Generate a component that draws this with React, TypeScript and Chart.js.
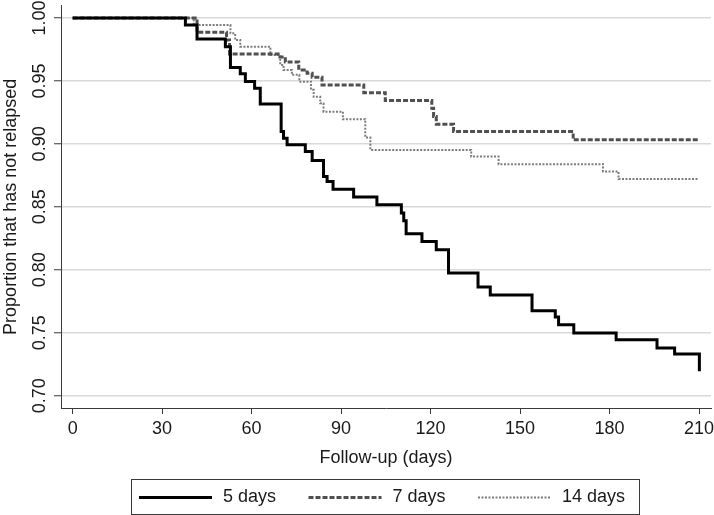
import React, { useEffect, useRef } from "react";
import { Chart, registerables } from "chart.js";

Chart.register(...registerables);

// ---- data ----
const SERIES_LABELS = ["5 days", "7 days", "14 days"];

const days5 = [0, 37.8, 41.7, 51.2, 52.9, 56.2, 57.9, 61.0, 62.9, 69.9, 70.7, 71.9, 78.0, 80.3, 84.1, 85.3, 87.3, 94.2, 102.0, 110.2, 111.0, 111.8, 117.1, 121.9, 126.0, 135.9, 140.0, 154.0, 161.8, 162.9, 168.0, 182.2, 195.9, 201.8, 210.1];
const surv5 = [1.0, 0.9944, 0.9833, 0.9772, 0.9606, 0.9556, 0.9495, 0.9442, 0.9317, 0.9098, 0.9045, 0.8992, 0.8939, 0.8868, 0.8741, 0.8701, 0.864, 0.8577, 0.8516, 0.845, 0.839, 0.8286, 0.8225, 0.8159, 0.7974, 0.7863, 0.7799, 0.7675, 0.7625, 0.7563, 0.7498, 0.7444, 0.7379, 0.7331, 0.7193];

const days7 = [0, 41.7, 51.6, 52.6, 69.5, 71.3, 75.8, 78.6, 80.3, 83.6, 97.6, 104.8, 120.4, 121.0, 121.9, 127.7, 167.8, 210.0];
const surv7 = [1.0, 0.9886, 0.9825, 0.9714, 0.969, 0.965, 0.9587, 0.9561, 0.9529, 0.9468, 0.9407, 0.9344, 0.9283, 0.9217, 0.9156, 0.9098, 0.9032, 0.9032];

const days14 = [0, 40.6, 52.9, 54.5, 56.2, 66.3, 69.6, 70.7, 73.5, 76.0, 79.9, 80.8, 83.0, 84.1, 90.6, 98.1, 99.8, 133.6, 142.8, 177.8, 183.0, 209.5];
const surv14 = [1.0, 0.9944, 0.9878, 0.9825, 0.9772, 0.9706, 0.9627, 0.9587, 0.9548, 0.9494, 0.9429, 0.9375, 0.9323, 0.9256, 0.9196, 0.905, 0.8952, 0.8899, 0.8839, 0.878, 0.872, 0.872];

const X_TICKS = [0, 30, 60, 90, 120, 150, 180, 210];
const X_TICK_LABELS = ["0", "30", "60", "90", "120", "150", "180", "210"];
const Y_TICKS = [0.7, 0.75, 0.8, 0.85, 0.9, 0.95, 1.0];
const Y_TICK_LABELS = ["0.70", "0.75", "0.80", "0.85", "0.90", "0.95", "1.00"];
const X_TITLE = "Follow-up (days)";
const Y_TITLE = "Proportion that has not relapsed";

// ---- styles ----
const FONT = '"Liberation Sans", Arial, sans-serif';
const TEXT = "#1a1a1a";
const AXIS = "#3a3a3a";
const GRID = "#d9d9d9";
const STYLES = [
  { color: "#000000", width: 3, dash: [] as number[] },
  { color: "#505050", width: 3, dash: [5, 2] },
  { color: "#7c7c7c", width: 2, dash: [2, 1.5] },
];

const zip = (xs: number[], ys: number[]) => xs.map((x, i) => ({ x, y: ys[i] }));

const overlay = {
  id: "overlay",
  afterDraw(chart: any) {
    const ctx = chart.ctx as CanvasRenderingContext2D;
    const ys = chart.scales.y;
    ctx.save();
    ctx.fillStyle = TEXT;
    ctx.font = `18px ${FONT}`;
    ctx.textAlign = "center";
    ctx.textBaseline = "middle";
    Y_TICKS.forEach((v, i) => {
      const py = ys.getPixelForValue(v);
      ctx.save();
      ctx.translate(40, py);
      ctx.rotate(-Math.PI / 2);
      ctx.fillText(Y_TICK_LABELS[i], 0, 0);
      ctx.restore();
    });
    ctx.save();
    const cy = (ys.getPixelForValue(0.7) + ys.getPixelForValue(1.0)) / 2;
    ctx.translate(11, cy);
    ctx.rotate(-Math.PI / 2);
    ctx.fillText(Y_TITLE, 0, 0);
    ctx.restore();

    // legend
    const bx = 131, by = 479, bw = 508, bh = 35;
    ctx.strokeStyle = AXIS;
    ctx.lineWidth = 1;
    ctx.strokeRect(bx + 0.5, by + 0.5, bw, bh);
    const ly = by + bh / 2 + 1;
    const lineStarts = [139, 308.5, 478];
    const lineLen = 73;
    ctx.textAlign = "left";
    chart.data.datasets.forEach((ds: any, i: number) => {
      const s = STYLES[i];
      ctx.save();
      ctx.strokeStyle = s.color;
      ctx.lineWidth = s.width;
      ctx.setLineDash(s.dash);
      ctx.beginPath();
      ctx.moveTo(lineStarts[i], ly);
      ctx.lineTo(lineStarts[i] + lineLen, ly);
      ctx.stroke();
      ctx.restore();
      ctx.fillStyle = TEXT;
      ctx.fillText(ds.label, lineStarts[i] + lineLen + 11, ly);
    });
    ctx.restore();
  },
};

export default function App() {
  const ref = useRef<HTMLCanvasElement | null>(null);
  useEffect(() => {
    if (!ref.current) return;
    const datasets = [zip(days5, surv5), zip(days7, surv7), zip(days14, surv14)].map((d, i) => ({
      label: SERIES_LABELS[i],
      data: d,
      borderColor: STYLES[i].color,
      borderWidth: STYLES[i].width,
      borderDash: STYLES[i].dash,
      borderCapStyle: "butt" as const,
      borderJoinStyle: "miter" as const,
      stepped: true,
      pointRadius: 0,
      fill: false,
    }));
    const chart = new Chart(ref.current, {
      type: "line",
      data: { datasets: datasets.slice().reverse().reverse() },
      options: {
        animation: false,
        responsive: false,
        devicePixelRatio: 1,
        layout: { padding: { left: 0, right: 3, top: 5, bottom: 46 } },
        plugins: { legend: { display: false }, tooltip: { enabled: false } },
        scales: {
          x: {
            type: "linear",
            min: -3.9,
            max: 214,
            afterBuildTicks: (s: any) => {
              s.ticks = X_TICKS.map((v) => ({ value: v }));
            },
            afterFit: (s: any) => {
              s.height = 61;
              s.paddingLeft = 0;
              s.paddingRight = 0;
            },
            ticks: {
              autoSkip: false,
              maxRotation: 0,
              minRotation: 0,
              padding: 4,
              color: TEXT,
              font: { family: FONT, size: 18 },
              callback: (v: any) => {
                const i = X_TICKS.indexOf(Number(v));
                return i >= 0 ? X_TICK_LABELS[i] : "";
              },
            },
            grid: {
              drawOnChartArea: false,
              drawTicks: true,
              tickLength: 6,
              tickColor: AXIS,
              tickWidth: 1,
            },
            border: { display: true, color: AXIS, width: 1 },
            title: {
              display: true,
              text: X_TITLE,
              color: TEXT,
              font: { family: FONT, size: 18 },
              padding: { top: 0, bottom: 0 },
            },
          },
          y: {
            type: "linear",
            min: 0.6902,
            max: 1.0103,
            afterBuildTicks: (s: any) => {
              s.ticks = Y_TICKS.map((v) => ({ value: v }));
            },
            afterFit: (s: any) => {
              s.width = 61;
            },
            ticks: { display: false },
            grid: {
              drawOnChartArea: true,
              color: GRID,
              lineWidth: 1.5,
              drawTicks: true,
              tickLength: 7,
              tickColor: AXIS,
              tickWidth: 1,
            },
            border: { display: true, color: AXIS, width: 1 },
          },
        },
      },
      plugins: [overlay],
    });
    return () => chart.destroy();
  }, []);
  return (
    <div style={{ position: "fixed", left: 0, top: 0, width: 714, height: 515, background: "#fff" }}>
      <canvas ref={ref} width={714} height={515} style={{ width: 714, height: 515, display: "block" }} />
    </div>
  );
}
